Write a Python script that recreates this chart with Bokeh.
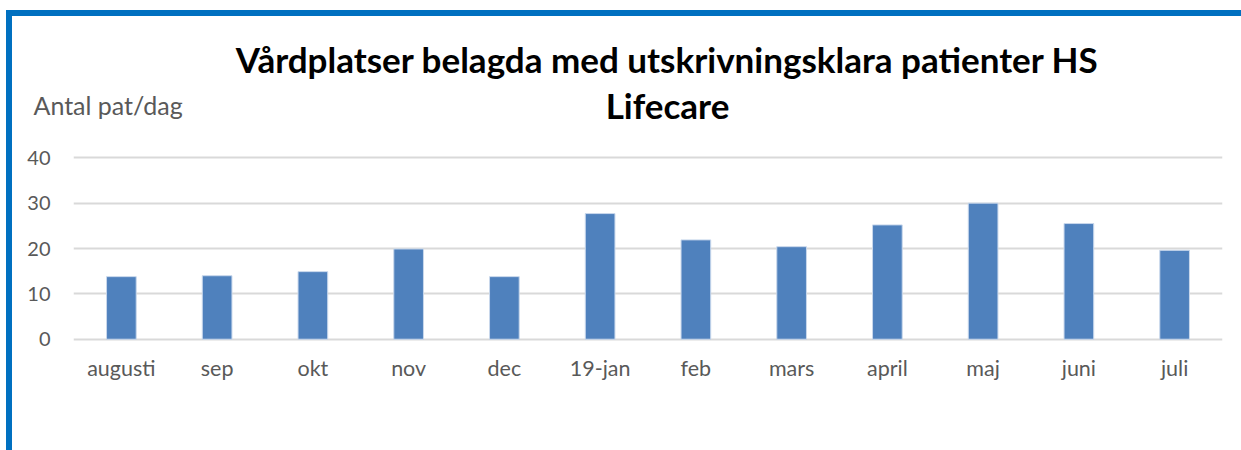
from bokeh.plotting import figure
from bokeh.models import Range1d, Label, ColumnDataSource
from bokeh.embed import file_html
from bokeh.resources import INLINE

months = ["augusti", "sep", "okt", "nov", "dec", "19-jan", "feb", "mars",
          "april", "maj", "juni", "juli"]
values = [13.8, 14.0, 14.9, 19.9, 13.8, 27.7, 21.9, 20.4, 25.2, 30.0, 25.5, 19.6]
y_ticks = [0, 10, 20, 30, 40]
title_line1 = "Vårdplatser belagda med utskrivningsklara patienter HS"
title_line2 = "Lifecare"
y_label = "Antal pat/dag"

FONT = "Lato"
GREY = "#595959"
FRAME_BLUE = "#0070C0"

src = ColumnDataSource(dict(m=months, v=values))

p = figure(width=1241, height=450, x_range=months, y_range=Range1d(-0.5, 40.5),
           title=None, toolbar_location=None, output_backend="svg",
           min_border_left=73, min_border_right=19, min_border_top=155,
           min_border_bottom=109)
p.outline_line_color = None
p.background_fill_color = "white"
p.border_fill_alpha = 0
p.styles = {
    "background-image": f"linear-gradient({FRAME_BLUE},{FRAME_BLUE}), linear-gradient({FRAME_BLUE},{FRAME_BLUE})",
    "background-size": "100% 6px, 6px 100%",
    "background-position": "6px 10px, 6px 10px",
    "background-repeat": "no-repeat",
}

p.vbar(x="m", top="v", bottom=0, width=0.31, source=src,
       fill_color="#4F81BD", line_color="#c9d8ec", line_width=1)

p.xgrid.grid_line_color = None
p.ygrid.grid_line_color = "#d9d9d9"
p.ygrid.grid_line_width = 2
p.yaxis.ticker = y_ticks

for ax in (p.xaxis[0], p.yaxis[0]):
    ax.axis_line_color = None
    ax.major_tick_line_color = None
    ax.minor_tick_line_color = None
    ax.major_tick_out = 0
    ax.major_tick_in = 0
    ax.major_label_text_font = FONT
    ax.major_label_text_color = GREY
p.yaxis.major_label_text_font_size = "20px"
p.xaxis.major_label_text_font_size = "21.5px"
p.yaxis.major_label_standoff = 23
p.xaxis.major_label_standoff = 13

p.add_layout(Label(x=594, y=97, x_units="screen", y_units="screen",
                   text=title_line1, text_align="center", text_baseline="alphabetic",
                   text_font=FONT, text_font_style="bold", text_font_size="35px",
                   text_color="black"), "above")
p.add_layout(Label(x=594, y=9, x_units="screen", y_units="screen",
                   text=title_line2, text_align="center", text_baseline="alphabetic",
                   text_font=FONT, text_font_style="bold", text_font_size="35px",
                   text_color="black"), "above")
p.add_layout(Label(x=-40, y=-33, x_units="screen", y_units="screen",
                   text=y_label, text_align="left", text_baseline="alphabetic",
                   text_font=FONT, text_font_size="25px", text_color=GREY), "above")

open("out.html", "w").write(file_html(p, INLINE))
